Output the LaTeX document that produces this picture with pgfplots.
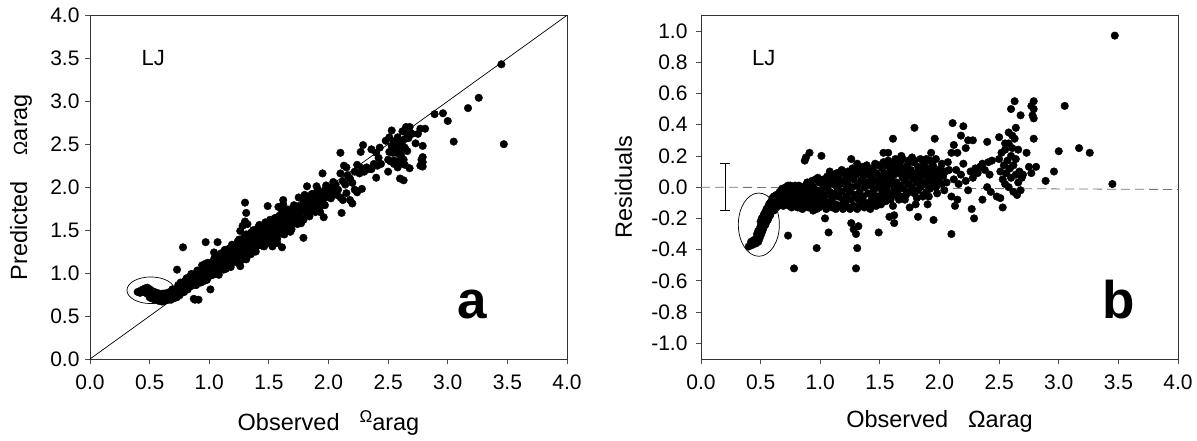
\documentclass[border=0pt]{standalone}
\usepackage{fontspec}
\setmainfont{Liberation Sans}
\usepackage{pgfplots}
\pgfplotsset{compat=1.18}
\usepackage{pgfplotstable}

\pgfplotstableread{
obs res
0.40 -0.38
0.43 -0.37
0.45 -0.36
0.46 -0.33
0.47 -0.30
0.48 -0.28
0.48 -0.32
0.49 -0.27
0.49 -0.31
0.50 -0.25
0.50 -0.29
0.51 -0.23
0.51 -0.27
0.52 -0.22
0.52 -0.25
0.53 -0.20
0.53 -0.23
0.54 -0.19
0.54 -0.22
0.55 -0.17
0.55 -0.20
0.56 -0.16
0.56 -0.19
0.57 -0.14
0.57 -0.17
0.58 -0.13
0.58 -0.16
0.59 -0.12
0.60 -0.14
0.60 -0.10
0.61 -0.12
0.62 -0.08
0.62 -0.11
0.63 -0.13
0.64 -0.07
0.64 -0.10
0.65 -0.05
0.66 -0.09
0.67 -0.04
0.68 -0.07
0.69 -0.02
0.70 -0.05
0.70 -0.10
0.42 -0.35
0.44 -0.34
0.46 -0.36
0.47 -0.34
0.48 -0.35
0.49 -0.33
0.50 -0.31
0.50 -0.22
0.51 -0.29
0.51 -0.20
0.52 -0.27
0.52 -0.19
0.53 -0.25
0.53 -0.17
0.54 -0.24
0.54 -0.16
0.55 -0.22
0.55 -0.14
0.56 -0.21
0.56 -0.13
0.57 -0.19
0.57 -0.11
0.58 -0.18
0.58 -0.10
0.59 -0.15
0.59 -0.09
0.60 -0.07
0.61 -0.15
0.61 -0.06
0.62 -0.14
0.63 -0.05
0.63 -0.09
0.65 -0.12
0.66 -0.03
0.67 -0.11
0.68 -0.01
0.69 -0.12
0.71 0.00
0.71 -0.06
0.72 -0.03
0.72 -0.09
0.73 0.01
0.73 -0.05
0.74 -0.12
0.74 -0.02
0.75 0.01
0.75 -0.07
0.76 -0.04
0.76 -0.13
0.77 0.00
0.77 -0.10
0.78 -0.02
0.78 -0.06
0.79 0.01
0.79 -0.09
0.80 -0.04
0.80 -0.11
0.81 -0.01
0.81 -0.13
0.82 -0.07
0.82 0.01
0.83 -0.03
0.83 -0.09
0.84 -0.12
0.84 -0.05
0.85 0.00
0.85 -0.14
0.86 -0.08
0.86 -0.02
0.87 -0.04
0.87 -0.11
0.88 0.01
0.88 -0.10
0.89 -0.06
0.89 0.03
0.90 -0.02
0.90 -0.13
0.91 0.02
0.91 -0.09
0.92 -0.07
0.92 -0.04
0.93 -0.10
0.93 0.04
0.94 0.00
0.94 -0.15
0.95 -0.05
0.95 -0.12
0.96 0.05
0.96 -0.09
0.97 -0.02
0.97 -0.14
0.98 -0.07
0.98 0.06
0.99 0.03
0.99 -0.13
1.00 -0.04
1.00 -0.10
1.01 0.04
1.01 -0.06
1.02 -0.01
1.03 -0.08
1.03 0.05
1.04 0.02
1.04 -0.12
1.05 -0.05
1.05 -0.14
1.06 0.07
1.06 0.00
1.07 -0.10
1.07 0.03
1.08 0.10
1.08 -0.03
1.09 0.04
1.09 -0.11
1.10 -0.07
1.10 -0.13
1.11 0.02
1.11 0.06
1.12 0.08
1.12 -0.04
1.13 -0.11
1.13 -0.14
1.14 0.00
1.14 0.09
1.15 0.06
1.15 -0.06
1.16 -0.12
1.16 0.04
1.17 0.09
1.17 0.02
1.18 -0.03
1.18 0.11
1.19 -0.08
1.19 -0.14
1.20 0.04
1.20 -0.12
1.21 0.08
1.21 -0.10
1.22 -0.01
1.22 -0.06
1.23 0.02
1.23 0.10
1.24 -0.13
1.24 0.06
1.25 -0.03
1.25 -0.14
1.26 0.09
1.26 -0.08
1.27 0.00
1.27 0.12
1.28 -0.12
1.28 0.05
1.29 -0.05
1.29 0.10
1.30 0.08
1.30 -0.13
1.31 0.01
1.31 -0.14
1.32 -0.08
1.32 0.12
1.33 0.10
1.33 -0.03
1.34 0.04
1.34 -0.10
1.35 -0.12
1.35 0.13
1.36 0.07
1.36 -0.06
1.37 0.00
1.37 -0.13
1.38 0.11
1.38 -0.10
1.39 0.03
1.39 0.14
1.40 -0.04
1.40 0.08
1.41 -0.12
1.41 0.09
1.42 0.01
1.42 -0.14
1.43 0.06
1.43 -0.08
1.44 0.12
1.44 -0.05
1.45 -0.02
1.45 0.04
1.46 -0.10
1.46 0.15
1.47 0.09
1.47 -0.12
1.48 0.00
1.48 -0.06
1.49 0.14
1.49 0.05
1.50 0.03
1.50 -0.08
1.51 0.07
1.51 -0.11
1.52 -0.03
1.52 0.12
1.53 0.01
1.53 0.16
1.54 -0.06
1.54 0.09
1.55 0.04
1.55 -0.09
1.56 0.14
1.56 -0.02
1.57 0.07
1.57 0.17
1.58 -0.07
1.58 0.02
1.59 0.11
1.59 -0.08
1.60 0.05
1.60 -0.04
1.61 0.15
1.62 0.00
1.62 0.08
1.63 -0.05
1.63 0.18
1.64 0.12
1.64 0.03
1.65 -0.02
1.65 0.14
1.66 0.09
1.66 -0.08
1.67 0.16
1.67 0.01
1.68 -0.06
1.69 0.06
1.69 0.18
1.70 0.12
1.70 -0.01
1.71 0.04
1.71 -0.08
1.72 0.09
1.72 -0.05
1.73 0.14
1.74 0.02
1.74 0.17
1.75 0.07
1.75 -0.03
1.76 0.11
1.77 0.00
1.77 0.19
1.78 0.05
1.78 0.16
1.79 -0.04
1.80 0.09
1.81 0.03
1.81 -0.07
1.82 0.13
1.82 -0.02
1.83 0.07
1.84 0.00
1.84 0.18
1.85 0.11
1.85 0.04
1.86 -0.06
1.87 0.15
1.87 -0.05
1.88 0.08
1.88 0.02
1.89 -0.03
1.89 0.18
1.90 0.12
1.91 0.05
1.91 -0.06
1.92 0.17
1.92 -0.01
1.93 0.09
1.94 0.03
1.94 0.15
1.95 0.13
1.96 0.06
1.97 0.00
1.98 0.10
1.98 -0.04
1.99 0.04
2.00 0.08
2.01 0.12
2.02 0.02
2.02 0.15
2.03 0.07
2.04 -0.02
2.05 0.10
2.06 0.03
2.07 0.16
2.08 0.11
2.12 0.05
2.14 0.11
2.16 0.02
2.18 0.08
2.20 0.15
2.22 0.04
2.24 -0.02
2.26 0.10
2.28 0.06
2.30 0.12
2.32 0.09
2.34 0.13
2.36 0.15
2.38 0.11
2.44 0.17
2.50 0.18
2.51 0.10
2.52 0.22
2.53 0.05
2.54 0.14
2.55 0.24
2.55 0.02
2.56 0.09
2.57 0.17
2.58 0.28
2.58 0.00
2.59 0.12
2.60 0.20
2.60 0.06
2.61 0.25
2.62 0.14
2.62 -0.03
2.63 0.31
2.64 0.08
2.64 0.18
2.65 -0.05
2.66 0.03
2.67 0.10
2.68 -0.02
2.69 0.06
2.70 0.08
0.73 -0.31
0.78 -0.52
0.87 0.17
0.88 0.19
0.91 0.22
0.97 -0.39
1.01 0.20
1.04 -0.20
1.07 -0.29
1.26 0.18
1.26 -0.23
1.28 -0.27
1.30 -0.30
1.31 -0.39
1.30 -0.52
1.32 -0.25
1.31 0.15
1.49 -0.29
1.53 0.22
1.57 0.22
1.61 0.31
1.58 -0.19
1.62 -0.23
1.62 -0.18
1.61 -0.12
1.68 0.20
1.75 -0.13
1.79 0.38
1.79 0.17
1.80 -0.11
1.82 -0.19
1.90 -0.11
1.93 0.22
1.96 0.31
1.95 -0.21
1.97 0.18
2.10 0.22
2.11 0.41
2.12 0.27
2.15 0.22
2.18 0.33
2.20 0.39
2.22 0.25
2.24 0.30
2.28 0.30
2.13 -0.12
2.10 -0.30
2.10 -0.06
2.15 -0.08
2.27 -0.14
2.29 -0.20
2.36 -0.08
2.40 0.29
2.41 0.16
2.42 0.08
2.40 0.00
2.43 -0.03
2.48 -0.06
2.51 -0.07
2.53 -0.13
2.50 0.32
2.55 0.28
2.58 0.35
2.60 0.50
2.61 0.33
2.63 0.55
2.64 0.38
2.66 0.24
2.68 0.46
2.73 0.22
2.75 0.13
2.77 0.52
2.79 0.55
2.79 0.50
2.78 0.46
2.79 0.44
2.79 0.31
2.77 0.09
2.81 0.13
2.89 0.04
2.96 0.10
3.00 0.23
3.05 0.52
3.17 0.25
3.26 0.22
3.45 0.02
3.47 0.97
}\data

\pgfplotsset{
  panel/.style={
    scale only axis,
    width=477pt, height=343.7pt,
    anchor=south west,
    xmin=0, xmax=4,
    xtick={0,0.5,1,1.5,2,2.5,3,3.5,4},
    tick align=outside,
    xtick pos=bottom, ytick pos=left,
    major tick length=5pt,
    axis line style={black!80, line width=0.8pt},
    every tick/.style={black!70, line width=0.8pt},
    /pgf/number format/.cd, fixed, fixed zerofill, precision=1, assume math mode=true,
    /pgfplots/.cd,
    tick label style={font=\fontsize{21}{24}\selectfont},
    label style={font=\fontsize{23.5}{28}\selectfont},
    xticklabel shift=7.5pt,
  },
  dots/.style={only marks, mark=*, mark size=3.8pt, black, mark options={fill=black, draw=black}},
}

\begin{document}
\begin{tikzpicture}
% page frame: 1197 x 440 with the left axis box at (90,81) from the page's bottom-left corner
\path (-90pt,-81pt) rectangle (1107pt,359pt);

% Panel a
\begin{axis}[panel, at={(0pt,0pt)},
  ymin=0, ymax=4,
  ytick={0,0.5,1,1.5,2,2.5,3,3.5,4},
  yticklabel shift=2pt,
  xlabel={Observed\hspace{0.85em}\raisebox{8pt}{\fontsize{17}{20}\selectfont Ω}arag},
  xlabel style={at={(axis description cs:0.5,-0.2066)}, anchor=base},
  ylabel={Predicted\hspace{1.1em}{\fontsize{19}{20}\selectfont Ω}arag},
  ylabel style={at={(axis description cs:-0.132,0.5)}, anchor=base},
]
\addplot[black, line width=0.7pt, no marks] coordinates {(0,0) (4,4)};
\addplot[dots] table[x=obs, y expr=\thisrow{obs}-\thisrow{res}] {\data};
\draw[black, line width=0.7pt] (axis cs:0.51,0.80) ellipse [x radius=0.20, y radius=0.155];
\node[anchor=base west, inner sep=0, font=\fontsize{22}{26}\selectfont] at (axis description cs:0.108,0.855) {LJ};
\node[anchor=base west, inner sep=0, font=\fontsize{53}{60}\selectfont\bfseries] at (axis description cs:0.769,0.119) {a};
\end{axis}

% Panel b
\begin{axis}[panel, at={(611pt,0pt)},
  ymin=-1.1, ymax=1.1,
  ytick={-1,-0.8,-0.6,-0.4,-0.2,0,0.2,0.4,0.6,0.8,1},
  yticklabel shift=5pt,
  xlabel={Observed\hspace{0.85em}Ωarag},
  xlabel style={at={(axis description cs:0.5,-0.1997)}, anchor=base},
  ylabel={Residuals},
  ylabel style={at={(axis description cs:-0.145,0.5)}, anchor=base},
]
\addplot[black!55, line width=0.8pt, dash pattern=on 9pt off 5pt, no marks] coordinates {(0,0) (4,-0.015)};
\addplot[dots] table[x=obs, y=res] {\data};
\addplot[black, line width=0.7pt, no marks] coordinates {(0.2,-0.15) (0.2,0.15)};
\addplot[black, line width=0.7pt, no marks] coordinates {(0.158,0.15) (0.242,0.15)};
\addplot[black, line width=0.7pt, no marks] coordinates {(0.158,-0.15) (0.242,-0.15)};
\draw[black, line width=0.7pt] (axis cs:0.485,-0.24) ellipse [x radius=0.172, y radius=0.2025];
\node[anchor=base west, inner sep=0, font=\fontsize{22}{26}\selectfont] at (axis description cs:0.107,0.855) {LJ};
\node[anchor=base west, inner sep=0, font=\fontsize{53}{60}\selectfont\bfseries] at (axis description cs:0.842,0.119) {b};
\end{axis}
\end{tikzpicture}
\end{document}
